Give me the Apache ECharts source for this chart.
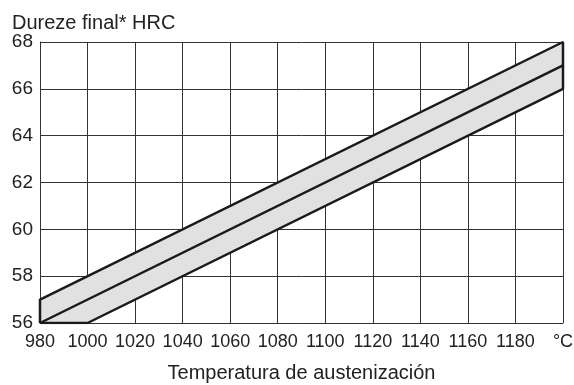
<!DOCTYPE html>
<html>
<head>
<meta charset="utf-8">
<script src="https://cdn.jsdelivr.net/npm/echarts@6/dist/echarts.min.js"></script>
<style>
  html, body { margin: 0; padding: 0; background: #fff; }
  #chart { width: 574px; height: 385px; }
</style>
</head>
<body>
<div id="chart"></div>
<script>
// hardness band: final hardness (HRC) vs austenitizing temperature (°C)
const upperEdge = [[980, 57], [1200, 68]]
const middleLine = [[980, 56], [1200, 67]]
const lowerEdge = [[1000, 56], [1200, 66]]
const xTicks = [980, 1000, 1020, 1040, 1060, 1080, 1100, 1120, 1140, 1160, 1180, 1200]
const yTicks = [56, 58, 60, 62, 64, 66, 68]

// closed outline of the band, built from the edges
const bandOutline = [
  [980, 56],
  ...upperEdge,
  ...lowerEdge.slice().reverse(),
  [980, 56]
]

const font = 'Liberation Sans, Arial, sans-serif'
const chart = echarts.init(document.getElementById('chart'))

chart.setOption({
  animation: false,
  title: {
    text: 'Dureze final* HRC',
    left: 7, top: 8,
    textStyle: { fontFamily: font, fontSize: 20, fontWeight: 'normal', color: '#222' }
  },
  grid: { left: 40, right: 11, top: 42, bottom: 62, outerBoundsMode: 'none', containLabel: false },
  xAxis: {
    type: 'value',
    min: xTicks[0], max: xTicks[xTicks.length - 1], interval: 20,
    name: 'Temperatura de austenización',
    nameLocation: 'middle', nameGap: 40,
    nameTextStyle: { fontFamily: font, fontSize: 20, color: '#222' },
    axisLine: { lineStyle: { color: '#333', width: 1 } },
    axisTick: { show: false },
    axisLabel: {
      fontFamily: font, fontSize: 18, color: '#222', margin: 10,
      formatter: v => (v === 1200 ? '°C' : String(v))
    },
    splitLine: { show: true, lineStyle: { color: '#333', width: 1 } }
  },
  yAxis: {
    type: 'value',
    min: yTicks[0], max: yTicks[yTicks.length - 1], interval: 2,
    axisLine: { show: true, lineStyle: { color: '#333', width: 1 } },
    axisTick: { show: false },
    axisLabel: { fontFamily: font, fontSize: 19, color: '#222', margin: 7 },
    splitLine: { show: true, lineStyle: { color: '#333', width: 1 } }
  },
  series: [
    {
      // grey fill of the band
      type: 'custom',
      renderItem: (params, api) => ({
        type: 'polygon',
        shape: { points: bandOutline.map(p => api.coord(p)) },
        style: { fill: '#e1e1e1' }
      }),
      data: [0],
      z: 1
    },
    {
      type: 'line',
      data: bandOutline,
      symbol: 'none',
      lineStyle: { color: '#1a1a1a', width: 2.5 },
      z: 3
    },
    {
      type: 'line',
      data: middleLine,
      symbol: 'none',
      lineStyle: { color: '#1a1a1a', width: 2.5 },
      z: 3
    }
  ]
})
</script>
</body>
</html>
